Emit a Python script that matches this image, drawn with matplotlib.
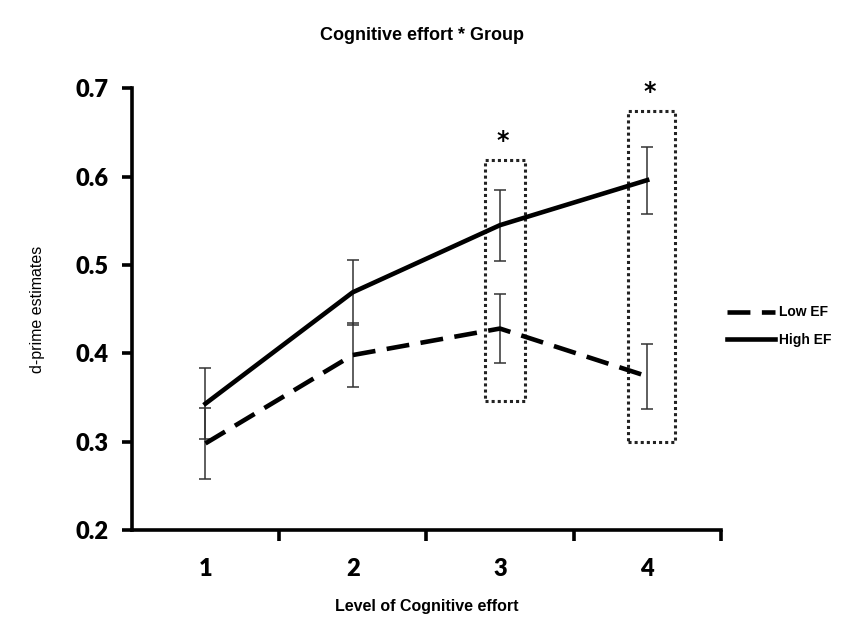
import matplotlib
matplotlib.use("Agg")
import matplotlib.pyplot as plt
from matplotlib.patches import Rectangle
from matplotlib.lines import Line2D

# values
levels = [1, 2, 3, 4]
low_ef = [0.298, 0.398, 0.428, 0.374]
low_ef_err = [0.040, 0.036, 0.039, 0.037]
high_ef = [0.343, 0.469, 0.545, 0.596]
high_ef_err = [0.040, 0.037, 0.040, 0.038]

# dotted boxes marking the significant levels
sig_levels = [3, 4]
sig_left = [2.9, 3.87]
sig_width = [0.27, 0.32]
sig_bottom = [0.346, 0.300]
sig_top = [0.619, 0.674]

narrow = ["Liberation Sans Narrow", "Liberation Sans", "DejaVu Sans"]
DASH = (5, 2.5)

fig = plt.figure(figsize=(8.45, 6.17), dpi=100)
ax = fig.add_axes([0.156, 0.141, 0.697, 0.716])

ax.errorbar(levels, low_ef, yerr=low_ef_err, color="black", lw=3.3,
            dashes=DASH, ecolor="#333333", elinewidth=1.1, capsize=4,
            capthick=1.1)
ax.errorbar(levels, high_ef, yerr=high_ef_err, color="black", lw=3.3,
            ecolor="#333333", elinewidth=1.1, capsize=4, capthick=1.1)

for lv, x0, w, b, t in zip(sig_levels, sig_left, sig_width, sig_bottom, sig_top):
    ax.add_patch(Rectangle((x0, b), w, t - b, fill=False, ls=(0, (1, 1)),
                           lw=2.2, ec="#222222"))
    ax.text(lv + 0.02, t + 0.008, "*", ha="center", va="bottom",
            fontsize=17, fontweight="bold", family="DejaVu Sans")

ax.set_xlim(0.5, 4.5)
ax.set_ylim(0.2, 0.7)
ax.set_yticks([0.2, 0.3, 0.4, 0.5, 0.6, 0.7])
ax.set_yticklabels(["0.2", "0.3", "0.4", "0.5", "0.6", "0.7"])
ax.set_xticks(levels)
ax.set_xticklabels([str(v) for v in levels])
ax.set_xticks([1.5, 2.5, 3.5, 4.5], minor=True)

for s in ["top", "right"]:
    ax.spines[s].set_visible(False)
for s in ["left", "bottom"]:
    ax.spines[s].set_linewidth(2.6)

ax.tick_params(axis="x", which="major", length=0, pad=20)
ax.tick_params(axis="x", which="minor", length=8, width=2.6, direction="out")
ax.tick_params(axis="y", length=7, width=2.6, direction="out", pad=10)
for lab in ax.get_xticklabels() + ax.get_yticklabels():
    lab.set_family(["Lato", "DejaVu Sans"])
    lab.set_fontweight("heavy")
    lab.set_fontsize(17)

ax.set_ylabel("d-prime estimates", family=narrow, fontsize=11.5, labelpad=22)
ax.set_xlabel("Level of Cognitive effort", family=narrow, fontsize=11.5,
              fontweight="bold", labelpad=14)
fig.text(0.5, 0.943, "Cognitive effort * Group", ha="center", va="center",
         family=narrow, fontsize=13, fontweight="bold")

handles = [Line2D([], [], color="black", lw=3.3, dashes=DASH),
           Line2D([], [], color="black", lw=3.3)]
ax.legend(handles, ["Low EF", "High EF"], loc="center left",
          bbox_to_anchor=(0.845, 0.471), bbox_transform=fig.transFigure,
          frameon=False, handlelength=3.5, handletextpad=0.3,
          labelspacing=1.0,
          prop={"family": narrow, "weight": "bold", "size": 10})

fig.savefig("out.png", dpi=100)
